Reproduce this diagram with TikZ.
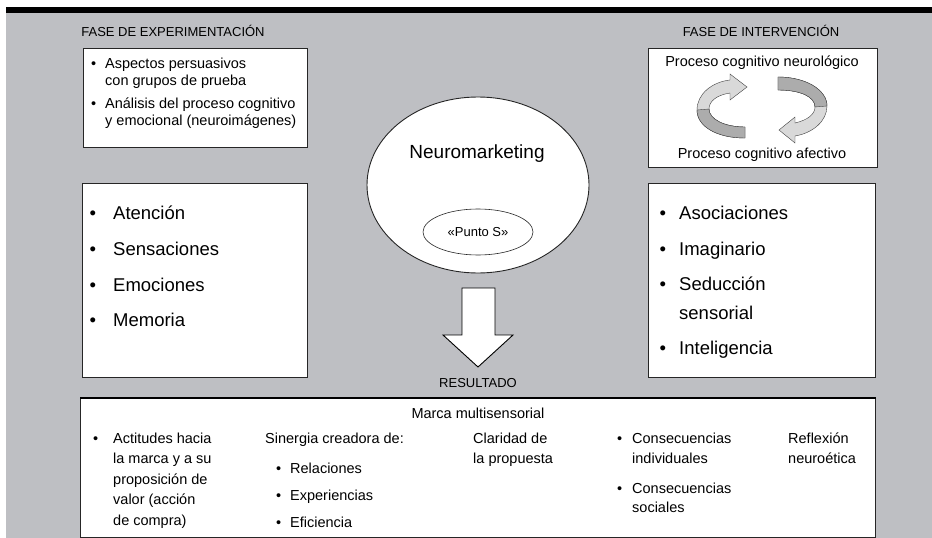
\documentclass[tikz,border=0pt]{standalone}
\usepackage{fontspec}
\setmainfont{Liberation Sans}
\usetikzlibrary{shapes.geometric}
\definecolor{fondo}{RGB}{190,191,195}
\newcommand{\punto}[1][10pt]{\llap{\textbullet\hspace{#1}}}
\tikzset{
	box/.style={draw=black!85, fill=white, line width=0.9pt, anchor=north west, inner sep=0pt},
	small/.style={font=\fontsize{14.5}{17}\selectfont, anchor=base west, inner sep=0pt},
	big/.style={font=\fontsize{18.5}{22}\selectfont, anchor=base west, inner sep=0pt},
	titulo/.style={font=\fontsize{13}{15}\selectfont, inner sep=0pt},
	rueda/.style={fill=gray!30, draw=black!75, line width=0.4pt},
	ruedaosc/.style={fill=gray!65, draw=black!75, line width=0.4pt},
}
\begin{document}
\begin{tikzpicture}[x=1pt,y=-1pt]
	\useasboundingbox (0,0) rectangle (932,538);
	\fill[white] (0,0) rectangle (932,538);
	\fill[fondo] (6,12) rectangle (932,538);
	\fill[black] (6,7) rectangle (932,13);
	%links oben
	\node[titulo] (fexp) at (173,31) {FASE DE EXPERIMENTACIÓN};
	\node[box, minimum width=224pt, minimum height=99pt] (expbox) at (83,48) {};
	\node[small] (asp1) at (105,68) {\punto[9pt]Aspectos persuasivos};
	\node[small] (asp2) at (105,85) {con grupos de prueba};
	\node[small] (ana1) at (105,108) {\punto[9pt]Análisis del proceso cognitivo};
	\node[small] (ana2) at (105,125) {y emocional (neuroimágenes)};
	%rechts oben
	\node[titulo] (fint) at (761,31) {FASE DE INTERVENCIÓN};
	\node[box, minimum width=229pt, minimum height=119pt] (intbox) at (648,48) {};
	\node[font=\fontsize{14.5}{17}\selectfont] (neurol) at (762,63) {Proceso cognitivo neurológico};
	\node[font=\fontsize{14.5}{17}\selectfont] (afect) at (762,155) {Proceso cognitivo afectivo};
	\fill[rueda] (745,138) .. controls (716,138) and (697,126) .. (697,110) .. controls (697,94) and (712,82) .. (730,80) -- (730,74) -- (747,87) -- (730,100) -- (730,93) .. controls (717,95) and (709,101) .. (709,109) .. controls (709,119) and (724,127) .. (745,127) -- cycle;
	\fill[ruedaosc] (745,138) .. controls (716,138) and (697,126) .. (697,110) -- (709,109) .. controls (709,119) and (724,127) .. (745,127) -- cycle;
	\fill[rueda] (778,77) .. controls (806,77) and (827,90) .. (827,106) .. controls (827,121) and (813,133) .. (795,136) -- (795,143) -- (779,130) -- (795,117) -- (795,123) .. controls (808,120) and (815,114) .. (815,107) .. controls (815,97) and (801,90) .. (778,90) -- cycle;
	\fill[ruedaosc] (778,77) .. controls (806,77) and (827,90) .. (827,106) -- (815,107) .. controls (815,97) and (801,90) .. (778,90) -- cycle;
	%mitte
	\node[draw=black!85, fill=white, line width=0.9pt, ellipse, minimum width=222pt, minimum height=176pt] (neuro) at (478,185) {};
	\node[font=\fontsize{19}{22}\selectfont] (nmk) at (477,154) {Neuromarketing};
	\node[draw=black!85, line width=0.6pt, ellipse, minimum width=110pt, minimum height=46pt, font=\fontsize{13}{15}\selectfont] (puntos) at (478,232) {«Punto S»};
	\draw[fill=white, line width=0.9pt] (462,288) -- (495,288) -- (495,335) -- (513,335) -- (478,367) -- (443,335) -- (462,335) -- cycle;
	\node[titulo] (res) at (478,383) {RESULTADO};
	%links
	\node[box, minimum width=225pt, minimum height=194pt] (leftbox) at (82,183) {};
	\node[big] (aten) at (113,219.5) {\punto[17pt]Atención};
	\node[big] (sens) at (113,255.5) {\punto[17pt]Sensaciones};
	\node[big] (emoc) at (113,291.5) {\punto[17pt]Emociones};
	\node[big] (memo) at (113,326.5) {\punto[17pt]Memoria};
	%rechts
	\node[box, minimum width=227pt, minimum height=194pt] (rightbox) at (648,183) {};
	\node[big] (asoc) at (679,219.5) {\punto[13pt]Asociaciones};
	\node[big] (imag) at (679,255.5) {\punto[13pt]Imaginario};
	\node[big] (sedu1) at (679,290.5) {\punto[13pt]Seducción};
	\node[big] (sedu2) at (679,319.5) {sensorial};
	\node[big] (intel) at (679,354.5) {\punto[13pt]Inteligencia};
	%unten
	\node[box, minimum width=795pt, minimum height=139pt] (marca) at (80,398) {};
	\draw[line width=2pt] (marca.north west) -- (marca.north east);
	\node[font=\fontsize{14.5}{17}\selectfont] (multi) at (478,413) {Marca multisensorial};
	\node[small] (act1) at (113,443) {\punto[15pt]Actitudes hacia};
	\node[small] (act2) at (113,463.5) {la marca y a su};
	\node[small] (act3) at (113,484) {proposición de};
	\node[small] (act4) at (113,504.5) {valor (acción};
	\node[small] (act5) at (113,525) {de compra)};
	\node[small] (sin) at (265,443) {Sinergia creadora de:};
	\node[small] (rel) at (290,473) {\punto[9pt]Relaciones};
	\node[small] (exper) at (290,500) {\punto[9pt]Experiencias};
	\node[small] (efic) at (290,527) {\punto[9pt]Eficiencia};
	\node[small] (clar1) at (473,443) {Claridad de};
	\node[small] (clar2) at (473,463) {la propuesta};
	\node[small] (cons1) at (632,443) {\punto[10pt]Consecuencias};
	\node[small] (cons2) at (632,463) {individuales};
	\node[small] (cons3) at (632,493) {\punto[10pt]Consecuencias};
	\node[small] (cons4) at (632,512) {sociales};
	\node[small] (refl1) at (788,443) {Reflexión};
	\node[small] (refl2) at (788,463) {neuroética};
\end{tikzpicture}
\end{document}
